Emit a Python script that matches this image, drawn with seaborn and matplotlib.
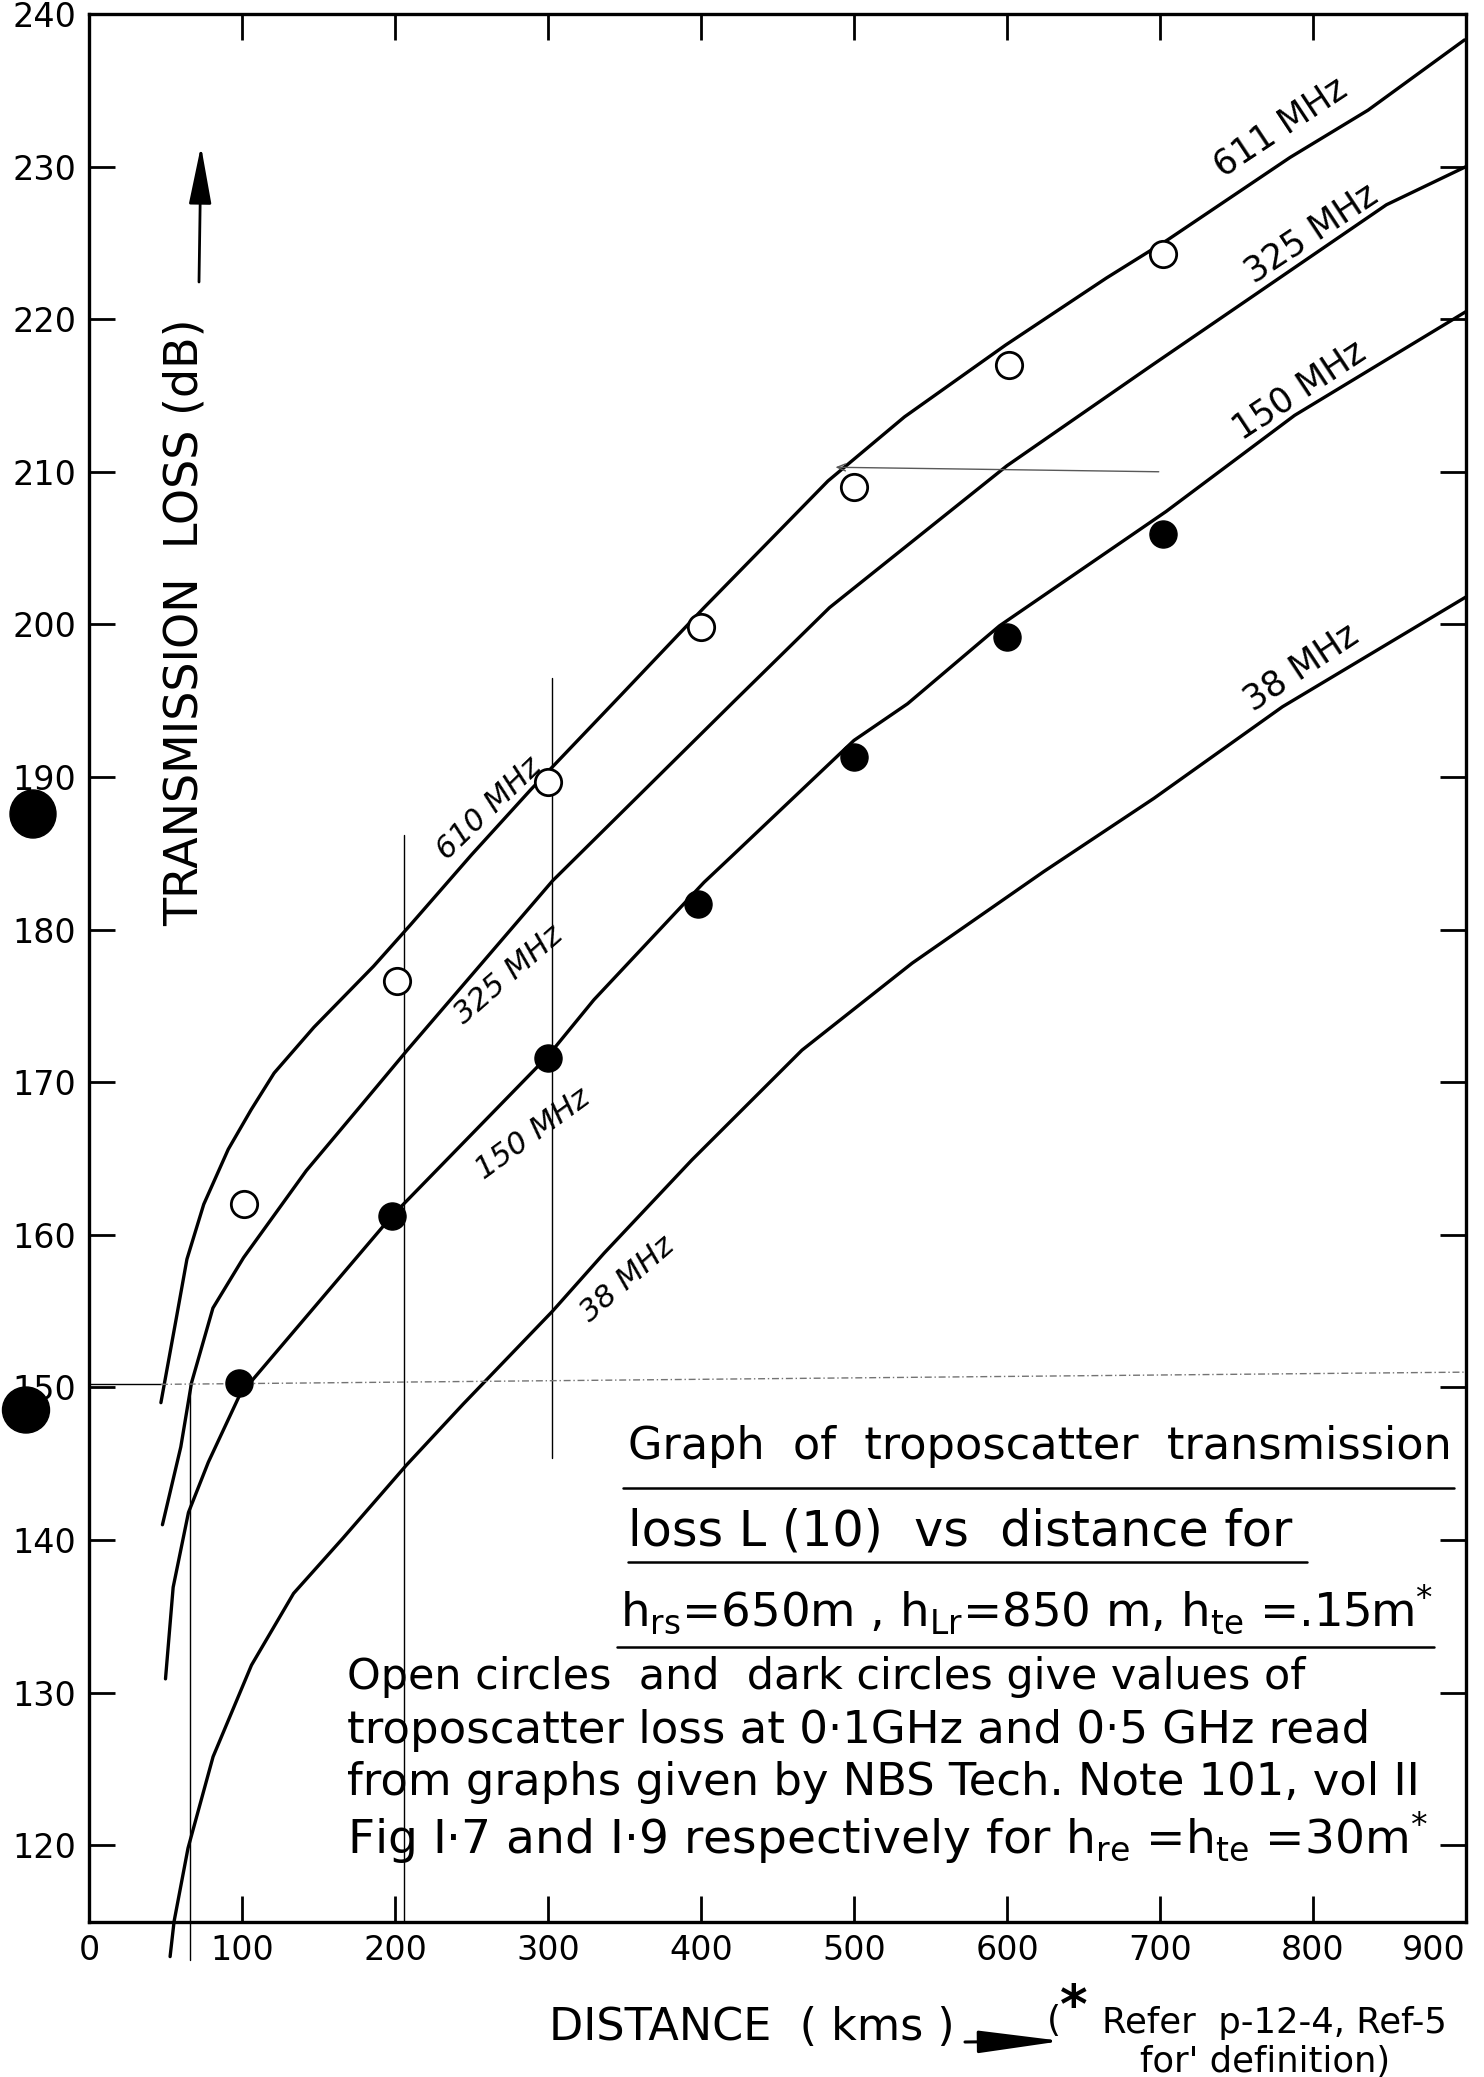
import matplotlib
matplotlib.use("Agg")
import matplotlib.pyplot as plt
import seaborn as sns
from matplotlib.lines import Line2D
from matplotlib.patches import Ellipse

# ---------------- data ----------------
dist_611 = [47, 57, 64, 75, 91, 106, 121, 147, 186, 210, 250, 289, 348, 402, 483, 533, 599, 665, 705, 785, 836, 899]
loss_611 = [149.0, 154.5, 158.4, 162.0, 165.6, 168.2, 170.6, 173.6, 177.6, 180.3, 184.9, 189.2, 195.4, 201.1,
            209.4, 213.6, 218.3, 222.7, 225.2, 230.6, 233.7, 238.3]

dist_325 = [48, 60, 67, 81, 101, 142, 178, 208, 303, 422, 484, 600, 695, 848, 900]
loss_325 = [141.0, 146.1, 150.3, 155.2, 158.5, 164.2, 168.5, 172.1, 183.2, 195.0, 201.1, 210.4, 217.0, 227.5, 230.0]

dist_150 = [50, 55, 65, 78, 98.5, 197.7, 299.8, 330, 402, 420, 500, 535, 595, 704, 788, 900]
loss_150 = [130.9, 136.9, 141.8, 145.1, 149.5, 161.2, 171.7, 175.4, 183.1, 184.8, 192.4, 194.8, 199.9, 207.4,
            213.7, 220.5]

dist_38 = [53, 55.6, 64.7, 81.1, 106.2, 133.7, 165.8, 207.4, 244.5, 303, 336.7, 394, 466, 538, 624, 696, 780, 900]
loss_38 = [112.7, 115.0, 119.8, 125.8, 131.8, 136.5, 140.1, 144.9, 148.9, 155.0, 158.8, 164.9, 172.1, 177.8,
           183.8, 188.6, 194.6, 201.8]

open_dist = [101, 201, 300, 400, 500, 601, 702]
open_loss = [162.0, 176.6, 189.7, 199.8, 209.0, 217.0, 224.3]
dark_dist = [98, 198, 300, 398, 500, 600, 702]
dark_loss = [150.3, 161.2, 171.6, 181.7, 191.3, 199.2, 205.9]

typed_labels = ["611 MHz", "325 MHz", "150 MHz", "38 MHz"]
hand_labels = ["610 MHz", "325 MHz", "150 MHz", "38 MHz"]

x_ticks = [0, 100, 200, 300, 400, 500, 600, 700, 800, 900]
y_ticks = [120, 130, 140, 150, 160, 170, 180, 190, 200, 210, 220, 230, 240]

# construction lines drawn by hand on the original sheet
guide_x = [66, 206, 302.5]
guide_lo = [112.5, 115, 145.4]
guide_hi = [150.3, 186.2, 196.5]
ref_level = 150.2

# ---------------- figure ----------------
W, H = 1484, 2077
sns.set_style("ticks")
plt.rcParams['font.family'] = ['DejaVu Sans']
plt.rcParams['mathtext.fontset'] = 'dejavusans'
plt.rcParams['text.color'] = 'black'
plt.rcParams['xtick.color'] = 'black'
plt.rcParams['ytick.color'] = 'black'

fig = plt.figure(figsize=(W / 100, H / 100), dpi=100)
L_px, T_px = 89, 14
ax_w_px, ax_h_px = 1377, 1907.5
ax = fig.add_axes([L_px / W, 1 - (T_px + ax_h_px) / H, ax_w_px / W, ax_h_px / H])

lw_curve = 2.4
sns.lineplot(x=dist_611, y=loss_611, sort=False, estimator=None, color='black', linewidth=lw_curve, ax=ax)
sns.lineplot(x=dist_325, y=loss_325, sort=False, estimator=None, color='black', linewidth=lw_curve, ax=ax)
sns.lineplot(x=dist_150, y=loss_150, sort=False, estimator=None, color='black', linewidth=lw_curve, ax=ax)
sns.lineplot(x=dist_38, y=loss_38, sort=False, estimator=None, color='black', linewidth=lw_curve, ax=ax,
             clip_on=False)

sns.scatterplot(x=open_dist, y=open_loss, marker='o', s=360, color='white', edgecolor='black',
                linewidth=2.0, ax=ax, zorder=5, clip_on=False)
sns.scatterplot(x=dark_dist, y=dark_loss, marker='o', s=380, color='black', edgecolor='black',
                linewidth=1.0, ax=ax, zorder=5, clip_on=False)

# hand-drawn guide lines
for gx, lo, hi in zip(guide_x, guide_lo, guide_hi):
    ax.plot([gx, gx], [lo, hi], color='black', lw=1.0, clip_on=False, zorder=2)
ax.plot([0, 47], [ref_level, ref_level], color='black', lw=1.0, zorder=2)
ax.plot([47, 900], [ref_level, ref_level + 0.8], color='0.45', lw=1.0, dashes=(5, 2, 1, 2), zorder=2)
ax.annotate('', xy=(486, 210.3), xytext=(701, 210.0),
            arrowprops=dict(arrowstyle='->,head_length=0.6,head_width=0.25', lw=1.0, color='0.35'))

ax.set_xlim(0, 900)
ax.set_ylim(115, 240)
ax.set_xticks(x_ticks)
ax.set_yticks(y_ticks)
ax.set_xticklabels([str(v) for v in x_ticks])
ax.set_yticklabels([str(v) for v in y_ticks])
ax.tick_params(direction='in', length=19, width=2.0, top=True, right=True, labelsize=24,
               pad=9, colors='black')
ax.tick_params(axis='y', right=True, labelright=False)
ax.tick_params(axis='x', top=True, labeltop=False)
xt_labels = ax.get_xticklabels()
xt_labels[-1].set_horizontalalignment('right')
for sp in ax.spines.values():
    sp.set_visible(True)
    sp.set_linewidth(2.4)
    sp.set_color('black')
ax.set_xlabel('')
ax.set_ylabel('')
ax.grid(False)

# curve labels (typed)
typed_pos = [(779, 232.6), (798.7, 225.6), (790.8, 215.3), (792.5, 197.2)]
for lab, (tx, ty) in zip(typed_labels, typed_pos):
    ax.text(tx, ty, lab, fontsize=25, rotation=33.5, ha='center', va='center', rotation_mode='anchor')

# curve labels (handwritten)
hand_pos = [(261.2, 187.9, 44), (274.0, 177.05, 41), (290.1, 166.6, 36), (351.8, 157.1, 41)]
for lab, (tx, ty, rot) in zip(hand_labels, hand_pos):
    ax.text(tx, ty, lab, fontsize=22, rotation=rot, ha='center', va='center', rotation_mode='anchor',
            style='italic', fontweight='light')

# ---------------- figure-level text ----------------
fits = []


def ftext(xpx, ypx, s, target=None, vertical=False, **kw):
    t = fig.text(xpx / W, 1 - ypx / H, s, **kw)
    if target is not None:
        fits.append((t, target, vertical))
    return t


def fline(x0, x1, y, lw=1.8):
    fig.add_artist(Line2D([x0 / W, x1 / W], [1 - y / H, 1 - y / H], color='black', lw=lw))


# y axis label with arrow
ftext(185, 622, 'TRANSMISSION  LOSS (dB)', target=609, vertical=True, rotation=90,
      ha='center', va='center', fontsize=30)
ax.annotate('', xy=(201 / W, 1 - 146 / H), xytext=(199 / W, 1 - 282 / H), xycoords='figure fraction',
            textcoords='figure fraction',
            arrowprops=dict(arrowstyle='-|>,head_length=1.8,head_width=0.35', lw=2.0, color='black',
                            mutation_scale=20, shrinkA=0, shrinkB=0))

# x axis label with arrow
ftext(549, 2027, 'DISTANCE  ( kms )', target=406, ha='left', va='center', fontsize=28)
ax.annotate('', xy=(1062 / W, 1 - 2041 / H), xytext=(965 / W, 1 - 2042 / H), xycoords='figure fraction',
            textcoords='figure fraction',
            arrowprops=dict(arrowstyle='-|>,head_length=2.6,head_width=0.35', lw=2.2, color='black',
                            mutation_scale=20, shrinkA=0, shrinkB=0))

# footnote
ftext(1047, 2021, '(', ha='left', va='center', fontsize=26)
ftext(1060, 2008, '*', ha='left', va='center', fontsize=38, fontweight='bold')
ftext(1102, 2023, 'Refer  p-12-4, Ref-5', target=345, ha='left', va='center', fontsize=19)
ftext(1140, 2062, "for' definition)", target=251, ha='left', va='center', fontsize=19)

# title block
ftext(628, 1447, 'Graph  of  troposcatter  transmission', target=823, ha='left', va='center', fontsize=28)
fline(623, 1454, 1488)
ftext(628, 1532, 'loss L (10)  vs  distance for', target=665, ha='left', va='center', fontsize=28)
fline(628, 1307, 1562)
ftext(620, 1610, r'h$_{\mathregular{rs}}$=650m , h$_{\mathregular{Lr}}$=850 m, h$_{\mathregular{te}}$ =.15m$^{*}$',
      target=814, ha='left', va='center', fontsize=28)
fline(617, 1434, 1647)

# explanatory paragraph
ftext(347, 1677, 'Open circles  and  dark circles give values of', target=958, ha='left', va='center',
      fontsize=25)
ftext(347, 1730, 'troposcatter loss at 0·1GHz and 0·5 GHz read', target=1022, ha='left', va='center',
      fontsize=25)
ftext(347, 1783, 'from graphs given by NBS Tech. Note 101, vol II', target=1073, ha='left', va='center',
      fontsize=25)
ftext(347, 1838, r'Fig I·7 and I·9 respectively for h$_{\mathregular{re}}$ =h$_{\mathregular{te}}$ =30m$^{*}$',
      target=1084, ha='left', va='center', fontsize=25)

# punch holes of the scanned sheet
fig.add_artist(Ellipse((33 / W, 1 - 814 / H), 46 / W, 48 / H, transform=fig.transFigure, color='black'))
fig.add_artist(Ellipse((26 / W, 1 - 1410 / H), 47 / W, 46 / H, transform=fig.transFigure, color='black'))

# fit text widths to the reference
fig.canvas.draw()
r = fig.canvas.get_renderer()
for t, tw, vert in fits:
    bb = t.get_window_extent(r)
    cur = bb.height if vert else bb.width
    if cur > 0:
        t.set_fontsize(t.get_fontsize() * tw / cur)

fig.savefig('out.png', dpi=100)
